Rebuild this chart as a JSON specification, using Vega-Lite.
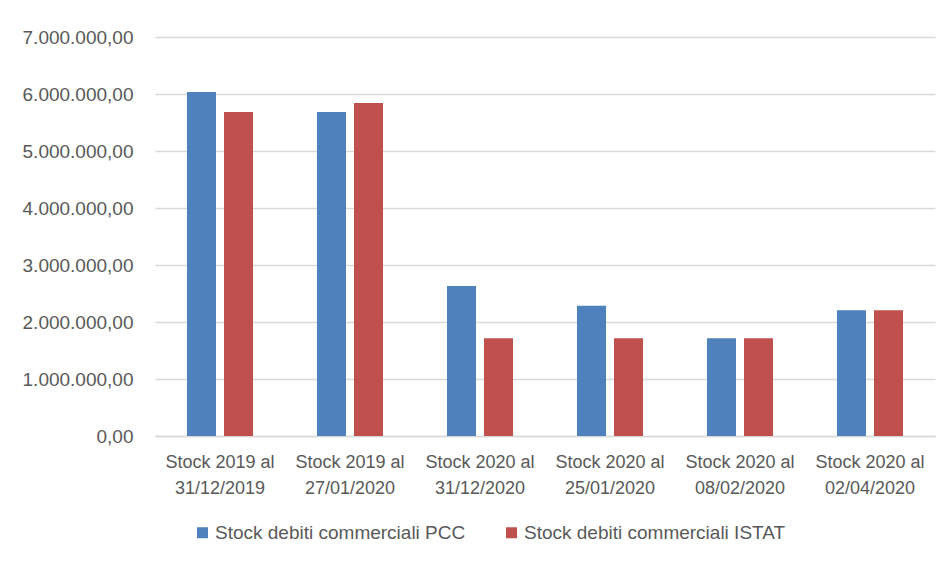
{
  "$schema": "https://vega.github.io/schema/vega-lite/v6.json",
  "autosize": {"type": "none"},
  "width": 780,
  "height": 399,
  "padding": {"left": 155, "top": 37, "right": 9, "bottom": 125},
  "background": "white",
  "config": {
    "locale": {"number": {"decimal": ",", "thousands": ".", "grouping": [3], "currency": ["€", ""]}},
    "view": {"stroke": null},
    "font": "Liberation Sans"
  },
  "data": {
    "values": [
      {"periodo": "Stock 2019 al 31/12/2019", "serie": "Stock debiti commerciali PCC", "valore": 6035000},
      {"periodo": "Stock 2019 al 31/12/2019", "serie": "Stock debiti commerciali ISTAT", "valore": 5684000},
      {"periodo": "Stock 2019 al 27/01/2020", "serie": "Stock debiti commerciali PCC", "valore": 5684000},
      {"periodo": "Stock 2019 al 27/01/2020", "serie": "Stock debiti commerciali ISTAT", "valore": 5842000},
      {"periodo": "Stock 2020 al 31/12/2020", "serie": "Stock debiti commerciali PCC", "valore": 2630000},
      {"periodo": "Stock 2020 al 31/12/2020", "serie": "Stock debiti commerciali ISTAT", "valore": 1717000},
      {"periodo": "Stock 2020 al 25/01/2020", "serie": "Stock debiti commerciali PCC", "valore": 2285000},
      {"periodo": "Stock 2020 al 25/01/2020", "serie": "Stock debiti commerciali ISTAT", "valore": 1717000},
      {"periodo": "Stock 2020 al 08/02/2020", "serie": "Stock debiti commerciali PCC", "valore": 1717000},
      {"periodo": "Stock 2020 al 08/02/2020", "serie": "Stock debiti commerciali ISTAT", "valore": 1717000},
      {"periodo": "Stock 2020 al 02/04/2020", "serie": "Stock debiti commerciali PCC", "valore": 2204000},
      {"periodo": "Stock 2020 al 02/04/2020", "serie": "Stock debiti commerciali ISTAT", "valore": 2204000}
    ]
  },
  "mark": {"type": "bar"},
  "encoding": {
    "x": {
      "field": "periodo",
      "type": "nominal",
      "sort": null,
      "scale": {"paddingInner": 0.492, "paddingOuter": 0.246},
      "axis": {
        "title": null,
        "labelAngle": 0,
        "labelExpr": "[slice(datum.label, 0, 13), slice(datum.label, 14)]",
        "labelFontSize": 18,
        "labelColor": "#595959",
        "labelLineHeight": 26,
        "labelPadding": 17,
        "ticks": false,
        "tickSize": 0,
        "domain": true,
        "domainColor": "#d9d9d9",
        "domainWidth": 1.5
      }
    },
    "xOffset": {
      "field": "serie",
      "type": "nominal",
      "sort": ["Stock debiti commerciali PCC", "Stock debiti commerciali ISTAT"],
      "scale": {"paddingInner": 0.216, "paddingOuter": 0}
    },
    "y": {
      "field": "valore",
      "type": "quantitative",
      "scale": {"domain": [0, 7000000], "nice": false},
      "axis": {
        "title": null,
        "values": [0, 1000000, 2000000, 3000000, 4000000, 5000000, 6000000, 7000000],
        "format": ",.2f",
        "labelFontSize": 19,
        "labelColor": "#595959",
        "labelPadding": 22,
        "ticks": false,
        "tickSize": 0,
        "domain": false,
        "grid": true,
        "gridColor": "#d9d9d9",
        "gridWidth": 1.5
      }
    },
    "color": {
      "field": "serie",
      "type": "nominal",
      "sort": ["Stock debiti commerciali PCC", "Stock debiti commerciali ISTAT"],
      "scale": {"range": ["#4F81BD", "#C0504D"]},
      "legend": {
        "title": null,
        "orient": "none",
        "direction": "horizontal",
        "legendX": 38,
        "legendY": 486,
        "symbolType": "square",
        "symbolSize": 121,
        "symbolStrokeWidth": 0,
        "symbolOpacity": 1,
        "labelFontSize": 19,
        "labelColor": "#595959",
        "labelOffset": 3,
        "columnPadding": 36,
        "labelLimit": 400
      }
    }
  }
}
